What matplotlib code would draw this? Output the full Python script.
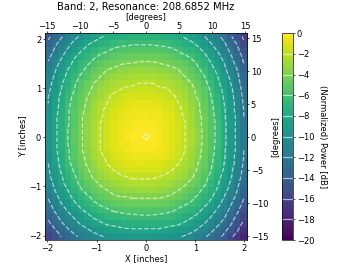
"""Beam map of band 2 (resonance 208.6852 MHz), normalized power in dB."""

import numpy as np
import matplotlib
matplotlib.use("Agg")
import matplotlib.pyplot as plt

BAND = 2
RESONANCE_MHZ = 208.6852
DEG_PER_INCH = 7.45

# Cell edges of the scan grid [inches]
x_edges = np.linspace(-2.05, 2.05, 32)
y_edges = np.linspace(-2.09, 2.12, 32)

# Attenuation below the peak, in steps of 0.2 dB (row 0 = bottom, y = -2)
atten_steps = [
    [80, 75, 70, 66, 62, 58, 56, 53, 51, 49, 48, 47, 47, 46, 46, 46, 46, 47, 47, 48, 49, 51, 53, 56, 59, 63, 67, 72, 78, 84, 90],
    [76, 71, 66, 61, 57, 54, 51, 48, 46, 44, 43, 42, 41, 41, 41, 41, 41, 41, 42, 43, 44, 46, 48, 51, 54, 58, 63, 68, 73, 79, 86],
    [72, 66, 61, 57, 53, 49, 46, 43, 41, 39, 38, 37, 37, 36, 36, 36, 36, 36, 37, 38, 39, 41, 44, 46, 50, 54, 58, 63, 69, 75, 82],
    [68, 63, 57, 53, 49, 45, 42, 39, 37, 35, 34, 33, 32, 32, 31, 31, 31, 32, 32, 33, 35, 37, 39, 42, 46, 50, 54, 59, 65, 72, 78],
    [65, 59, 54, 49, 45, 41, 38, 35, 32, 31, 29, 28, 27, 27, 27, 27, 27, 27, 28, 29, 31, 33, 35, 38, 42, 46, 51, 56, 62, 68, 75],
    [62, 56, 50, 46, 41, 37, 34, 31, 29, 27, 25, 24, 23, 23, 23, 23, 23, 23, 24, 25, 27, 29, 31, 34, 38, 42, 47, 53, 59, 65, 72],
    [59, 53, 47, 42, 38, 34, 31, 28, 25, 23, 21, 20, 20, 19, 19, 19, 19, 19, 20, 21, 23, 25, 28, 31, 35, 39, 44, 50, 56, 62, 69],
    [56, 50, 45, 40, 35, 31, 27, 24, 22, 20, 18, 17, 16, 16, 15, 15, 15, 16, 17, 18, 20, 22, 25, 28, 32, 36, 41, 47, 53, 60, 67],
    [54, 48, 42, 37, 33, 28, 25, 22, 19, 17, 15, 14, 13, 12, 12, 12, 12, 13, 13, 15, 17, 19, 22, 25, 29, 34, 39, 45, 51, 58, 65],
    [52, 46, 41, 35, 31, 26, 22, 19, 16, 14, 12, 11, 10, 9, 9, 9, 9, 10, 11, 12, 14, 16, 19, 23, 27, 32, 37, 43, 49, 56, 63],
    [51, 45, 39, 34, 29, 24, 21, 17, 14, 12, 10, 8, 7, 7, 7, 7, 7, 7, 8, 10, 12, 14, 17, 21, 25, 30, 35, 41, 48, 55, 62],
    [50, 43, 38, 32, 27, 23, 19, 16, 12, 10, 8, 6, 5, 5, 4, 4, 5, 5, 6, 8, 10, 13, 16, 20, 24, 29, 34, 40, 46, 53, 61],
    [49, 43, 37, 31, 26, 22, 18, 14, 11, 9, 6, 5, 4, 3, 3, 3, 3, 3, 4, 6, 8, 11, 15, 18, 23, 28, 33, 39, 46, 53, 60],
    [48, 42, 36, 31, 26, 21, 17, 14, 10, 8, 5, 4, 2, 1, 1, 1, 1, 2, 3, 5, 8, 10, 14, 18, 22, 27, 33, 39, 45, 52, 60],
    [48, 42, 36, 30, 25, 21, 17, 13, 10, 7, 5, 3, 2, 1, 0.5, 0.5, 0.5, 1, 3, 5, 7, 10, 13, 17, 22, 27, 32, 38, 45, 52, 59],
    [48, 42, 36, 30, 25, 21, 17, 13, 10, 7, 5, 3, 1, 0.5, 0.5, -0.5, 0.5, 1, 3, 5, 7, 10, 13, 17, 22, 27, 32, 38, 45, 52, 59],
    [48, 42, 36, 30, 25, 21, 17, 13, 10, 7, 5, 3, 2, 1, 0.5, 0.5, 0.5, 1, 3, 5, 7, 10, 13, 17, 22, 27, 32, 38, 45, 52, 59],
    [48, 42, 36, 31, 26, 21, 17, 13, 10, 7, 5, 3, 2, 1, 1, 1, 1, 2, 3, 5, 7, 10, 14, 18, 22, 27, 32, 38, 45, 52, 59],
    [48, 42, 36, 31, 26, 21, 17, 14, 11, 8, 6, 4, 3, 2, 2, 1, 2, 2, 4, 5, 8, 11, 14, 18, 22, 27, 33, 39, 45, 52, 60],
    [49, 43, 37, 31, 26, 22, 18, 14, 11, 9, 6, 5, 4, 3, 3, 3, 3, 3, 5, 6, 9, 11, 15, 19, 23, 28, 33, 39, 46, 53, 60],
    [50, 43, 38, 32, 27, 23, 19, 15, 12, 10, 8, 6, 5, 4, 4, 4, 4, 5, 6, 7, 10, 12, 16, 19, 24, 29, 34, 40, 46, 53, 61],
    [50, 44, 38, 33, 28, 24, 20, 17, 14, 11, 9, 8, 7, 6, 6, 6, 6, 7, 8, 9, 11, 14, 17, 21, 25, 30, 35, 41, 47, 54, 62],
    [52, 45, 40, 34, 30, 25, 22, 18, 15, 13, 11, 10, 9, 8, 8, 8, 8, 9, 9, 11, 13, 15, 18, 22, 26, 31, 36, 42, 48, 55, 63],
    [53, 47, 41, 36, 31, 27, 23, 20, 17, 15, 13, 12, 11, 11, 10, 10, 10, 11, 12, 13, 15, 17, 20, 24, 28, 33, 38, 44, 50, 57, 64],
    [55, 49, 43, 38, 33, 29, 26, 22, 20, 17, 16, 15, 14, 13, 13, 13, 13, 14, 14, 16, 17, 20, 23, 26, 30, 35, 40, 45, 52, 58, 66],
    [57, 51, 45, 40, 36, 32, 28, 25, 22, 20, 19, 17, 17, 16, 16, 16, 16, 17, 17, 18, 20, 22, 25, 29, 32, 37, 42, 48, 54, 60, 68],
    [59, 53, 48, 43, 38, 34, 31, 28, 25, 23, 22, 21, 20, 20, 19, 19, 19, 20, 21, 22, 23, 25, 28, 31, 35, 40, 45, 50, 56, 63, 70],
    [62, 56, 51, 46, 41, 37, 34, 31, 29, 27, 25, 24, 24, 23, 23, 23, 23, 23, 24, 25, 27, 29, 31, 35, 38, 43, 47, 53, 59, 65, 72],
    [65, 59, 54, 49, 45, 41, 38, 35, 32, 31, 29, 28, 27, 27, 27, 27, 27, 27, 28, 29, 31, 33, 35, 38, 42, 46, 51, 56, 62, 68, 75],
    [68, 62, 57, 53, 48, 45, 41, 39, 36, 35, 33, 32, 32, 31, 31, 31, 31, 32, 32, 33, 35, 37, 39, 42, 45, 50, 54, 59, 65, 71, 78],
    [72, 66, 61, 56, 52, 49, 46, 43, 41, 39, 38, 37, 36, 36, 36, 36, 36, 36, 37, 38, 39, 41, 43, 46, 50, 54, 58, 63, 69, 75, 82],
]

contour_levels = [-18, -16, -14, -12, -10, -8, -6, -4, -2, 0]
cbar_ticks = [-20, -18, -16, -14, -12, -10, -8, -6, -4, -2, 0]
deg_ticks = [-15, -10, -5, 0, 5, 10, 15]
inch_ticks = [-2, -1, 0, 1, 2]


def to_deg(v):
    return v * DEG_PER_INCH


def to_inch(v):
    return v / DEG_PER_INCH


def main():
    power_db = -0.2 * np.array(atten_steps, dtype=float)
    xc = 0.5 * (x_edges[1:] + x_edges[:-1])
    yc = 0.5 * (y_edges[1:] + y_edges[:-1])

    plt.rcParams.update({
        "xtick.major.size": 2.5, "ytick.major.size": 2.5,
        "xtick.major.pad": 2.0, "ytick.major.pad": 2.0,
        "axes.labelpad": 2.0,
    })

    fig = plt.figure(figsize=(6, 4.5), dpi=60)
    ax = fig.add_axes([0.125, 0.111, 0.561, 0.766])
    im = ax.pcolormesh(x_edges, y_edges, power_db, cmap="viridis", vmin=-20, vmax=0)
    cs = ax.contour(xc, yc, power_db, levels=contour_levels, colors="w", alpha=0.6)
    ax.set_xlim(x_edges[0], x_edges[-1])
    ax.set_ylim(y_edges[0], y_edges[-1])
    ax.set_xticks(inch_ticks)
    ax.set_yticks(inch_ticks)
    ax.set_xlabel("X [inches]")
    ax.set_ylabel("Y [inches]")
    ax.set_title(f"Band: {BAND}, Resonance: {RESONANCE_MHZ} MHz", y=1.09, fontsize=12)

    # angular axes
    secx = ax.secondary_xaxis("top", functions=(to_deg, to_inch))
    secx.set_xticks(deg_ticks)
    secx.tick_params(length=2, pad=1)
    secx.set_xlabel("[degrees]", labelpad=2)
    secy = ax.secondary_yaxis("right", functions=(to_deg, to_inch))
    secy.set_yticks(deg_ticks)
    secy.set_ylabel("[degrees]", labelpad=4)

    cax = fig.add_axes([0.783, 0.111, 0.031, 0.766])
    cb = fig.colorbar(im, cax=cax, ticks=cbar_ticks)
    cb.add_lines(cs)
    cb.set_label("(Normalized) Power [dB]", rotation=270, va="bottom", labelpad=4)

    fig.savefig("out.png", dpi=60)
    plt.close(fig)


if __name__ == "__main__":
    main()
